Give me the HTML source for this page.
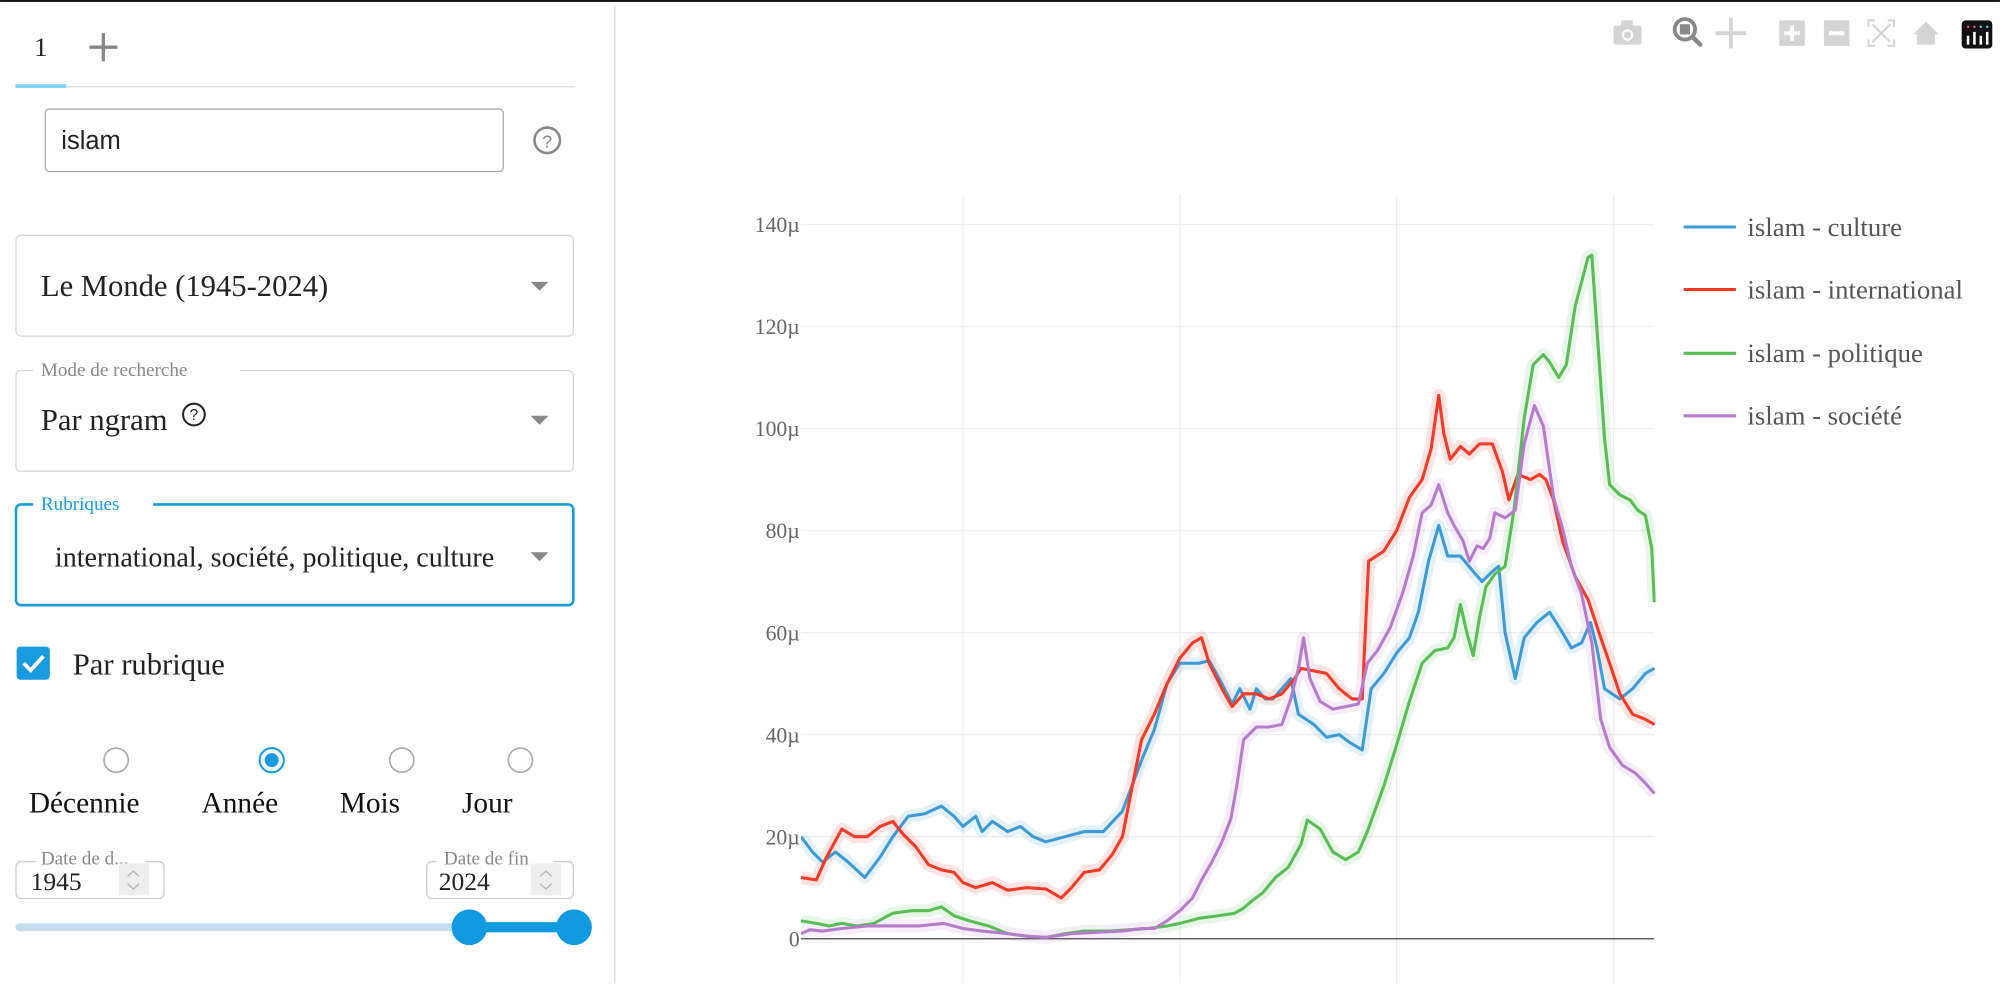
<!DOCTYPE html>
<html><head><meta charset="utf-8"><style>
html,body{margin:0;padding:0;background:#fff;width:2000px;height:984px;overflow:hidden}
svg{display:block}
text{font-family:"Liberation Serif",serif}
</style></head><body>
<svg width="2000" height="984" viewBox="0 0 1568 771.5" xmlns="http://www.w3.org/2000/svg">
<rect width="1568" height="771.5" fill="#fff"/>
<rect x="0" y="0" width="1568" height="1.5" fill="#111"/>
<line x1="482" y1="4" x2="482" y2="771" stroke="#e3e3e3" stroke-width="1.2"/>

<text x="32" y="44" font-size="21" fill="#222" text-anchor="middle">1</text>
<path d="M70 37H92M81 26V48" stroke="#888" stroke-width="2.6"/>
<line x1="12" y1="68" x2="451" y2="68" stroke="#ddd" stroke-width="1"/>
<rect x="12" y="66" width="40" height="3" fill="#7fd5ef"/>

<rect x="35.5" y="85.5" width="359" height="49" rx="3" fill="#fff" stroke="#aaa" stroke-width="1"/>
<text x="48" y="117" font-size="20" fill="#222" style="font-family:'Liberation Sans',sans-serif">islam</text>
<circle cx="429" cy="110" r="10" fill="none" stroke="#888" stroke-width="2"/>
<text x="429" y="115.5" font-size="14" fill="#888" text-anchor="middle" style="font-family:'Liberation Sans',sans-serif">?</text>

<rect x="12.5" y="184.5" width="437" height="79" rx="4" fill="#fff" stroke="#d6d6d6"/>
<text x="32" y="232" font-size="24" fill="#222">Le Monde (1945-2024)</text>
<path d="M416 221h14l-7 7z" fill="#888"/>

<rect x="12.5" y="290.5" width="437" height="79" rx="4" fill="#fff" stroke="#d6d6d6"/>
<rect x="26" y="282" width="162" height="16" fill="#fff"/>
<text x="32" y="295" font-size="15" fill="#888">Mode de recherche</text>
<text x="32" y="337" font-size="24" fill="#222">Par ngram</text>
<circle cx="152" cy="325" r="8.5" fill="none" stroke="#222" stroke-width="1.6"/>
<text x="152" y="329.5" font-size="12" fill="#222" text-anchor="middle" style="font-family:'Liberation Sans',sans-serif">?</text>
<path d="M416 326h14l-7 7z" fill="#888"/>

<rect x="12.5" y="395.5" width="437" height="79" rx="4" fill="#fff" stroke="#1a9be0" stroke-width="2"/>
<rect x="26" y="387" width="94" height="16" fill="#fff"/>
<text x="32" y="400" font-size="15" fill="#1a9be0">Rubriques</text>
<text x="43" y="444" font-size="22" fill="#222">international, société, politique, culture</text>
<path d="M416 433h14l-7 7z" fill="#888"/>

<rect x="13" y="507" width="26" height="26" rx="3" fill="#1a9be0"/>
<path d="M18.5 520l5.5 5.5 10-11" stroke="#fff" stroke-width="3" fill="none"/>
<text x="57" y="529" font-size="24" fill="#222">Par rubrique</text>

<circle cx="91" cy="596" r="9.5" fill="#fff" stroke="#aaa" stroke-width="1.3"/>
<circle cx="213" cy="596" r="9.5" fill="#fff" stroke="#1a9be0" stroke-width="1.6"/>
<circle cx="213" cy="596" r="5.5" fill="#1a9be0"/>
<circle cx="315" cy="596" r="9.5" fill="#fff" stroke="#aaa" stroke-width="1.3"/>
<circle cx="408" cy="596" r="9.5" fill="#fff" stroke="#aaa" stroke-width="1.3"/>
<text x="66" y="637" font-size="23" fill="#111" text-anchor="middle">Décennie</text>
<text x="188" y="637" font-size="23" fill="#111" text-anchor="middle">Année</text>
<text x="290" y="637" font-size="23" fill="#111" text-anchor="middle">Mois</text>
<text x="382" y="637" font-size="23" fill="#111" text-anchor="middle">Jour</text>

<rect x="12.5" y="675.5" width="116" height="29" rx="4" fill="#fff" stroke="#ccc"/>
<rect x="28" y="666" width="86" height="14" fill="#fff"/>
<text x="32" y="678" font-size="15" fill="#888">Date de d...</text>
<text x="24" y="698" font-size="20" fill="#222">1945</text>
<rect x="93" y="677" width="24" height="25" fill="#eee"/>
<path d="M100 687l4.5-4 4.5 4M100 693l4.5 4 4.5-4" stroke="#bbb" stroke-width="1.2" fill="none"/>
<rect x="334.5" y="675.5" width="115" height="29" rx="4" fill="#fff" stroke="#ccc"/>
<rect x="342" y="666" width="92" height="14" fill="#fff"/>
<text x="348" y="678" font-size="15" fill="#888">Date de fin</text>
<text x="344" y="698" font-size="20" fill="#222">2024</text>
<rect x="416" y="677" width="24" height="25" fill="#eee"/>
<path d="M423.5 687l4.5-4 4.5 4M423.5 693l4.5 4 4.5-4" stroke="#bbb" stroke-width="1.2" fill="none"/>

<rect x="12" y="724" width="438" height="6" rx="3" fill="#c2dcf0"/>
<rect x="368" y="723" width="82" height="8" fill="#129ae0"/>
<circle cx="368" cy="727" r="14" fill="#129ae0"/>
<circle cx="450" cy="727" r="14" fill="#129ae0"/>

<g fill="#d4d4d4">
<rect x="1265" y="20" width="22" height="15" rx="2"/><rect x="1271" y="16" width="9" height="5" rx="1"/>
<circle cx="1276" cy="27.5" r="4.5" fill="#fff"/><circle cx="1276" cy="27.5" r="2.8"/>
<path d="M1357 14v24M1345 26h24" stroke="#d4d4d4" stroke-width="3"/>
<rect x="1395" y="16" width="20" height="20"/><rect x="1430" y="16" width="20" height="20"/>
<path d="M1465 21v-5h5M1480 16h5v5M1485 31v5h-5M1470 36h-5v-5M1468 19l14 14M1482 19l-14 14" stroke="#d4d4d4" stroke-width="1.6" fill="none"/>
<path d="M1500 27l10-10 10 10h-3v8h-14v-8z"/>
</g>
<path d="M1405 20v12M1399 26h12M1434 26h12" stroke="#fff" stroke-width="3"/>
<circle cx="1321" cy="23" r="8" fill="none" stroke="#888" stroke-width="3"/>
<rect x="1317" y="19" width="8" height="8" fill="#888"/>
<path d="M1327 29l6 6" stroke="#888" stroke-width="3.5" stroke-linecap="round"/>
<rect x="1538" y="16" width="24" height="22" rx="3" fill="#111"/>
<g stroke="#fff" stroke-width="2"><path d="M1543 28v7M1548 25v10M1553 28v7M1558 25v10"/></g>
<g fill="#e94c7b"><circle cx="1543" cy="21" r="1"/><circle cx="1548" cy="21" r="1"/></g>
<g fill="#4ec3e8"><circle cx="1553" cy="21" r="1"/><circle cx="1558" cy="21" r="1"/></g>

<g stroke="#eeeeee" stroke-width="1">
<path d="M755 152V771M925 152V771M1095 152V771M1265 152V771"/>
<path d="M628 656H1297M628 576H1297M628 496H1297M628 416H1297M628 336H1297M628 256H1297M628 176H1297"/>
</g>
<line x1="628" y1="736" x2="1297" y2="736" stroke="#444" stroke-width="1"/>
<g font-size="17" fill="#666" text-anchor="end">
<text x="627" y="742">0</text><text x="627" y="662">20µ</text><text x="627" y="582">40µ</text>
<text x="627" y="502">60µ</text><text x="627" y="422">80µ</text><text x="627" y="342">100µ</text>
<text x="627" y="262">120µ</text><text x="627" y="182">140µ</text>
</g>

<defs><clipPath id="c"><rect x="628" y="140" width="670" height="631"/></clipPath></defs>
<g clip-path="url(#c)" fill="none" stroke-linejoin="round" stroke-linecap="round">
<g id="cu"><polyline stroke="#3d9ad6" points="628,656 637,668 645,676 655,668 665,676 678,688 690,672 700,656 712,640 725,638 738,632 748,640 755,648 765,640 770,652 778,644 790,652 800,648 810,656 820,660 835,656 850,652 865,652 880,636 895,596 905,572 915,536 925,520 940,520 948,518 958,536 966,552 972,540 980,556 985,540 992,548 998,548 1005,540 1012,532 1018,560 1030,568 1040,578 1050,576 1058,582 1068,588 1075,540 1085,528 1095,512 1105,500 1112,480 1120,440 1128,412 1135,436 1145,436 1155,448 1162,456 1170,448 1175,444 1180,496 1188,532 1195,500 1205,488 1215,480 1225,496 1232,508 1240,504 1247,488 1252,508 1258,540 1270,548 1280,540 1290,528 1297,524"/></g>
<g id="in"><polyline stroke="#f43a28" points="628,688 640,690 648,672 660,650 670,656 680,656 690,648 700,644 708,654 718,664 728,678 738,682 748,684 755,692 765,696 778,692 790,698 805,696 820,697 832,704 840,696 850,684 862,682 872,670 880,656 887,620 895,580 905,560 915,536 925,516 935,504 942,500 948,520 958,540 966,554 975,544 985,544 995,548 1005,544 1015,532 1020,524 1030,526 1040,528 1050,540 1060,548 1068,548 1073,440 1085,432 1095,416 1105,390 1115,376 1122,352 1128,310 1132,340 1137,360 1145,350 1152,356 1160,348 1170,348 1178,370 1183,392 1190,372 1200,376 1207,372 1212,376 1218,392 1225,424 1235,452 1245,470 1255,500 1262,520 1270,544 1280,560 1290,564 1297,568"/></g>
<g id="po"><polyline stroke="#58bd55" points="628,722 640,724 650,726 660,724 672,726 685,724 700,716 715,714 728,714 738,711 748,718 760,722 775,726 790,732 805,734 820,735 835,732 850,730 870,730 885,729 900,728 915,726 925,724 940,720 955,718 968,716 975,712 982,706 990,700 1000,688 1010,680 1020,662 1025,643 1035,650 1045,668 1055,674 1065,668 1072,652 1085,616 1095,584 1105,550 1115,520 1125,510 1135,508 1140,500 1145,474 1150,496 1155,514 1160,484 1165,460 1172,450 1180,444 1187,400 1195,328 1202,286 1210,278 1215,284 1222,296 1228,286 1235,240 1245,202 1248,200 1258,344 1262,380 1270,388 1278,392 1284,400 1290,404 1295,430 1297,472"/></g>
<g id="so"><polyline stroke="#b57ccb" points="628,732 635,729 645,730 660,728 680,726 700,726 720,726 740,724 755,728 770,730 790,732 805,734 820,735 840,732 860,731 880,730 895,728 905,728 915,722 925,714 935,704 942,690 950,676 958,660 965,642 970,614 975,580 985,570 995,570 1005,568 1012,548 1018,524 1022,500 1027,532 1035,550 1045,556 1055,554 1065,552 1072,520 1080,510 1090,492 1100,464 1108,436 1115,402 1122,396 1128,380 1135,402 1140,412 1147,424 1152,440 1158,428 1163,430 1168,422 1172,402 1180,406 1188,400 1195,348 1203,318 1210,334 1218,390 1225,414 1232,444 1240,466 1248,504 1255,564 1262,586 1272,600 1282,606 1290,614 1297,622"/></g>
</g>
<g clip-path="url(#c)" opacity="0.13" stroke-width="10" fill="none" stroke-linejoin="round">
<use href="#cu"/><use href="#in"/><use href="#po"/><use href="#so"/>
</g>
<g clip-path="url(#c)" stroke-width="2.4" fill="none" stroke-linejoin="round">
<use href="#cu"/><use href="#in"/><use href="#po"/><use href="#so"/>
</g>

<g stroke-width="2.4">
<line x1="1320" y1="178" x2="1361" y2="178" stroke="#3d9ad6"/>
<line x1="1320" y1="227" x2="1361" y2="227" stroke="#f43a28"/>
<line x1="1320" y1="277" x2="1361" y2="277" stroke="#58bd55"/>
<line x1="1320" y1="326" x2="1361" y2="326" stroke="#b57ccb"/>
</g>
<g font-size="21" fill="#555">
<text x="1370" y="185">islam - culture</text>
<text x="1370" y="234">islam - international</text>
<text x="1370" y="284">islam - politique</text>
<text x="1370" y="333">islam - société</text>
</g>
</svg>
</body></html>
